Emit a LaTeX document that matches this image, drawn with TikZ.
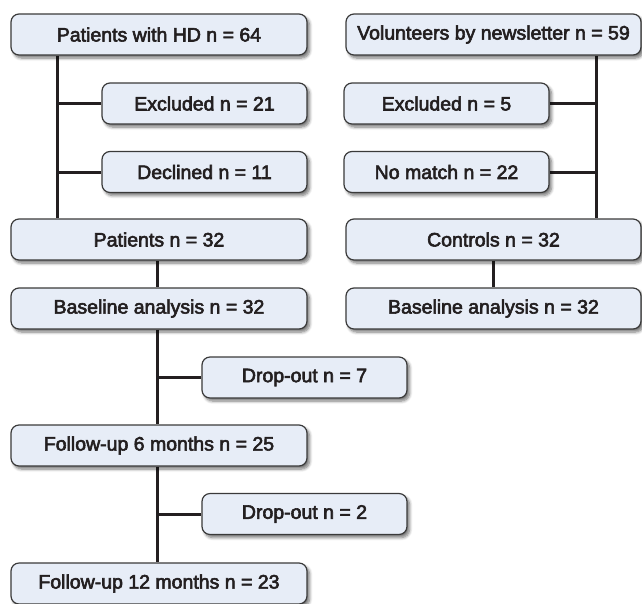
\documentclass[tikz,border=0pt]{standalone}
\usepackage{fontspec}
\newfontfamily\boxfont{Liberation Sans}[BoldFont=Liberation Sans, BoldFeatures={FakeBold=3}]
\usetikzlibrary{shadows.blur,backgrounds}
\definecolor{boxfill}{HTML}{E7EDF7}
\definecolor{boxline}{HTML}{3A3A3A}
\definecolor{ink}{HTML}{231F20}
\tikzset{
  flowbox/.style={draw=boxline, line width=1.2pt, fill=boxfill, rounded corners=8pt,
    minimum height=41pt, inner sep=0pt, text=ink,
    font=\boxfont\bfseries\fontsize{19.5}{22}\selectfont,
    blur shadow={shadow xshift=2.5pt, shadow yshift=-3pt, shadow blur radius=3pt, shadow blur steps=6, shadow opacity=55}},
  wide/.style={flowbox, minimum width=296pt},
  narrow/.style={flowbox, minimum width=205pt},
  conn/.style={draw=ink, line width=3pt}
}
\begin{document}
\begin{tikzpicture}[x=1pt,y=-1pt]
\useasboundingbox (0,0) rectangle (642,603);
\clip (0,0) rectangle (642,603);
% left column
\node[wide] (hd) at (159,34.5) {Patients with HD n = 64};
\node[narrow] (exc1) at (204.5,103.5) {Excluded n = 21};
\node[narrow] (dec) at (204.5,172) {Declined n = 11};
\node[wide] (pt) at (159,239.5) {Patients n = 32};
\node[wide] (base1) at (159,308.5) {Baseline analysis n = 32};
\node[narrow] (do1) at (304.5,377.5) {Drop-out n = 7};
\node[wide] (fu6) at (159,445.5) {Follow-up 6 months n = 25};
\node[narrow] (do2) at (304.5,514) {Drop-out n = 2};
\node[wide] (fu12) at (159,583.5) {Follow-up 12 months n = 23};
% right column
\node[wide, minimum width=295pt] (vol) at (493.5,34.5) {Volunteers by newsletter n = 59};
\node[narrow] (exc2) at (446.5,103.5) {Excluded n = 5};
\node[narrow] (nom) at (446.5,172) {No match n = 22};
\node[wide, minimum width=295pt] (ctl) at (493.5,239.5) {Controls n = 32};
\node[wide, minimum width=295pt] (base2) at (493.5,308.5) {Baseline analysis n = 32};
\coordinate (lx) at (57,0);
\coordinate (rx) at (596,0);
\coordinate (cx) at (157,0);
\begin{scope}[on background layer]
\draw[conn] (hd.south -| lx) -- (pt.north -| lx);
\draw[conn] (exc1.west) -- (exc1.west -| lx);
\draw[conn] (dec.west) -- (dec.west -| lx);
\draw[conn] (vol.south -| rx) -- (ctl.north -| rx);
\draw[conn] (exc2.east) -- (exc2.east -| rx);
\draw[conn] (nom.east) -- (nom.east -| rx);
\draw[conn] (pt.south -| cx) -- (base1.north -| cx);
\draw[conn] (base1.south -| cx) -- (fu6.north -| cx);
\draw[conn] (do1.west) -- (do1.west -| cx);
\draw[conn] (fu6.south -| cx) -- (fu12.north -| cx);
\draw[conn] (do2.west) -- (do2.west -| cx);
\draw[conn] (ctl.south) -- (base2.north);
\end{scope}
\end{tikzpicture}
\end{document}
